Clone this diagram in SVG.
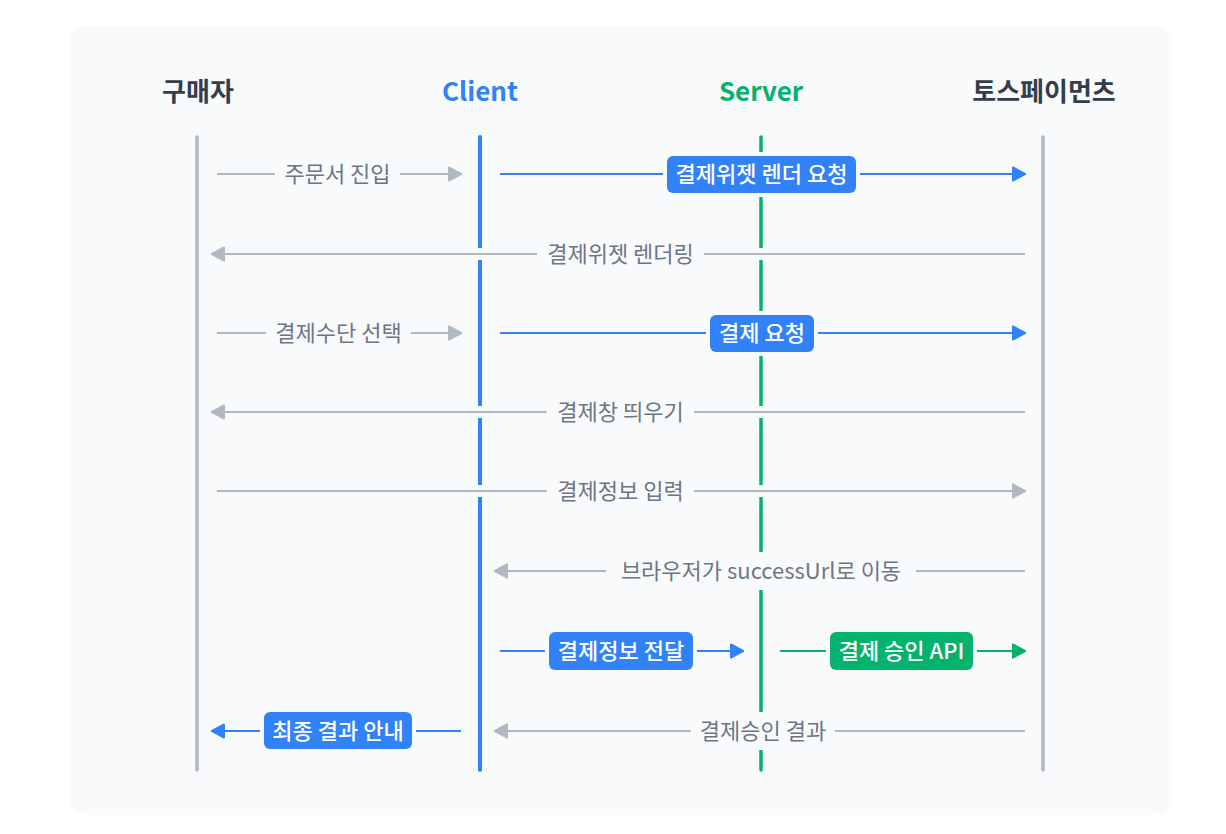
<svg xmlns="http://www.w3.org/2000/svg" width="1226" height="834" viewBox="0 0 1226 834">
<style>
  text { font-family: "Noto Sans CJK KR", "Noto Sans", sans-serif; }
  .hdr { font-size: 26px; font-weight: 700; text-anchor: middle; }
  .lbl { font-size: 22px; fill: #6b7684; text-anchor: middle; }
  .boxt { font-size: 22px; fill: #ffffff; text-anchor: middle; font-weight: 500; }
  .lbg { fill: #f9fafb; }
  .halo { stroke: #f9fafb; stroke-width: 12; fill: none; }
  .g { stroke: #b0b8c1; stroke-width: 2; fill: none; marker-end: url(#ah-gray); }
  .b { stroke: #3182f6; stroke-width: 2; fill: none; marker-end: url(#ah-blue); }
  .gr { stroke: #03b26c; stroke-width: 2; fill: none; marker-end: url(#ah-green); }
  .boxb { fill: #3182f6; stroke: #f9fafb; stroke-width: 8; paint-order: stroke; }
  .boxg { fill: #03b26c; stroke: #f9fafb; stroke-width: 8; paint-order: stroke; }
  .life { stroke-linecap: round; fill: none; }
</style>
<defs>
  <marker id="ah-gray" viewBox="0 0 16 16" markerWidth="16" markerHeight="16" refX="15" refY="8" orient="auto" markerUnits="userSpaceOnUse">
    <path d="M2,1.5 L14,8 L2,14.5 Z" fill="#b0b8c1" stroke="#b0b8c1" stroke-width="2" stroke-linejoin="round"/>
  </marker>
  <marker id="ah-blue" viewBox="0 0 16 16" markerWidth="16" markerHeight="16" refX="15" refY="8" orient="auto" markerUnits="userSpaceOnUse">
    <path d="M2,1.5 L14,8 L2,14.5 Z" fill="#3182f6" stroke="#3182f6" stroke-width="2" stroke-linejoin="round"/>
  </marker>
  <marker id="ah-green" viewBox="0 0 16 16" markerWidth="16" markerHeight="16" refX="15" refY="8" orient="auto" markerUnits="userSpaceOnUse">
    <path d="M2,1.5 L14,8 L2,14.5 Z" fill="#03b26c" stroke="#03b26c" stroke-width="2" stroke-linejoin="round"/>
  </marker>
</defs>

<rect x="0" y="0" width="1226" height="834" fill="#ffffff"/>
<rect x="69" y="26" width="1103" height="789" rx="16" fill="#f9fafb"/>

<g id="buyer">
  <text class="hdr" x="198" y="101" fill="#333d4b">구매자</text>
  <line class="life" x1="197" y1="137" x2="197" y2="770" stroke="#b0b8c1" stroke-width="3.5"/>
</g>
<g id="client">
  <text class="hdr" x="480" y="101" fill="#3182f6">Client</text>
  <line class="life" x1="480" y1="137" x2="480" y2="770" stroke="#3182f6" stroke-width="4"/>
</g>
<g id="server">
  <text class="hdr" x="761" y="101" fill="#03b26c">Server</text>
  <line class="life" x1="761" y1="137" x2="761" y2="770" stroke="#03b26c" stroke-width="3.5"/>
</g>
<g id="tosspayments">
  <text class="hdr" x="1044" y="101" fill="#333d4b">토스페이먼츠</text>
  <line class="life" x1="1043" y1="137" x2="1043" y2="770" stroke="#b0b8c1" stroke-width="3.5"/>
</g>

<g id="connectors">
  <line class="g" x1="217" y1="174" x2="462" y2="174"/>
  <line class="b" x1="500" y1="174" x2="1026" y2="174"/>
  <line class="halo" x1="1025" y1="254" x2="218" y2="254"/>
  <line class="g" x1="1025" y1="254" x2="211" y2="254"/>
  <line class="g" x1="217" y1="333" x2="462" y2="333"/>
  <line class="b" x1="500" y1="333" x2="1026" y2="333"/>
  <line class="halo" x1="1025" y1="412" x2="218" y2="412"/>
  <line class="g" x1="1025" y1="412" x2="211" y2="412"/>
  <line class="halo" x1="217" y1="491" x2="1020" y2="491"/>
  <line class="g" x1="217" y1="491" x2="1026" y2="491"/>
  <line class="halo" x1="1025" y1="571" x2="500" y2="571"/>
  <line class="g" x1="1025" y1="571" x2="494" y2="571"/>
  <line class="b" x1="500" y1="651" x2="744" y2="651"/>
  <line class="gr" x1="780" y1="651" x2="1026" y2="651"/>
  <line class="b" x1="461" y1="731" x2="211" y2="731"/>
  <line class="halo" x1="1025" y1="731" x2="500" y2="731"/>
  <line class="g" x1="1025" y1="731" x2="494" y2="731"/>
</g>

<g id="labels">
  <g id="lbl-order">
    <rect class="lbg" x="275" y="155" width="125" height="38"/>
    <text class="lbl" x="337.5" y="182">주문서 진입</text>
  </g>
  <g id="lbl-widget-req">
    <rect class="boxb" x="667" y="156" width="189" height="37" rx="6"/>
    <text class="boxt" x="761.5" y="182">결제위젯 렌더 요청</text>
  </g>
  <g id="lbl-widget-render">
    <rect class="lbg" x="537" y="235" width="167" height="38"/>
    <text class="lbl" x="620.5" y="262">결제위젯 렌더링</text>
  </g>
  <g id="lbl-method">
    <rect class="lbg" x="266" y="314" width="145" height="38"/>
    <text class="lbl" x="338.5" y="341">결제수단 선택</text>
  </g>
  <g id="lbl-pay-req">
    <rect class="boxb" x="710" y="315" width="104" height="37" rx="6"/>
    <text class="boxt" x="762" y="341">결제 요청</text>
  </g>
  <g id="lbl-window">
    <rect class="lbg" x="547" y="393" width="147" height="38"/>
    <text class="lbl" x="620.5" y="420">결제창 띄우기</text>
  </g>
  <g id="lbl-input">
    <rect class="lbg" x="547" y="472" width="147" height="38"/>
    <text class="lbl" x="620.5" y="499">결제정보 입력</text>
  </g>
  <g id="lbl-redirect">
    <rect class="lbg" x="606" y="552" width="310" height="38"/>
    <text class="lbl" x="761" y="579">브라우저가 successUrl로 이동</text>
  </g>
  <g id="lbl-deliver">
    <rect class="boxb" x="549" y="632" width="144" height="38" rx="6"/>
    <text class="boxt" x="621" y="659">결제정보 전달</text>
  </g>
  <g id="lbl-confirm-api">
    <rect class="boxg" x="830" y="632" width="143" height="38" rx="6"/>
    <text class="boxt" x="901.5" y="659">결제 승인 API</text>
  </g>
  <g id="lbl-final">
    <rect class="boxb" x="264" y="712" width="148" height="37" rx="6"/>
    <text class="boxt" x="338" y="739">최종 결과 안내</text>
  </g>
  <g id="lbl-confirm-result">
    <rect class="lbg" x="691" y="712" width="144" height="38"/>
    <text class="lbl" x="763" y="739">결제승인 결과</text>
  </g>
</g>
</svg>
